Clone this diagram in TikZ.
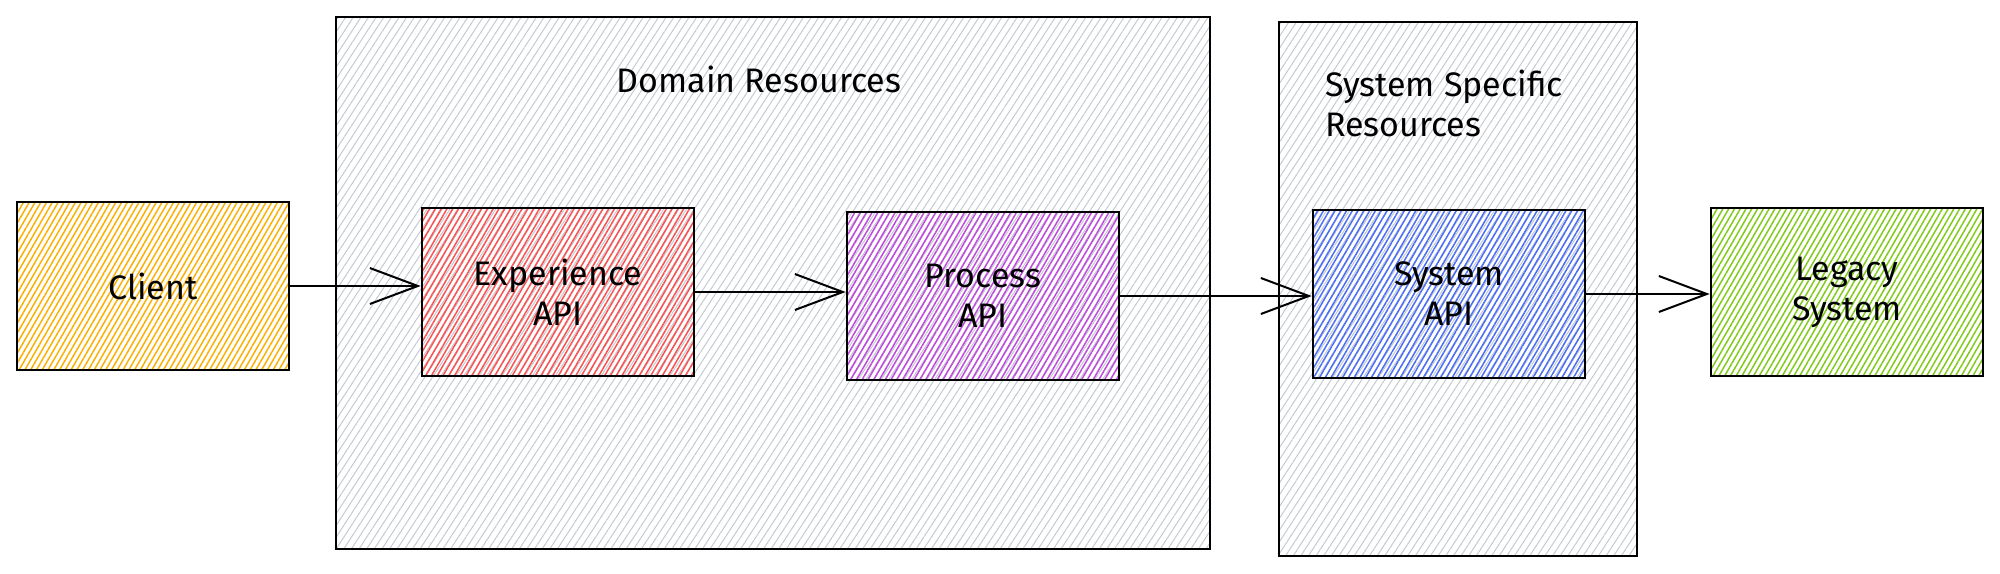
\documentclass[tikz,border=0pt]{standalone}
\usepackage{fontspec}
\setmainfont{Fira Sans}
\usepackage{xcolor}
\usetikzlibrary{arrows.meta, patterns.meta}
\definecolor{hatchgray}{HTML}{C4CAD1}
\definecolor{clientcol}{HTML}{FAB005}
\definecolor{expcol}{HTML}{FA5252}
\definecolor{proccol}{HTML}{BE4BDB}
\definecolor{syscol}{HTML}{4C6EF5}
\definecolor{legacycol}{HTML}{82C91E}
\tikzset{
    zone/.style={draw=black, line width=1.2pt,
        pattern={Lines[angle=57, distance=3.2pt, line width=0.5pt]}, pattern color=hatchgray},
    apibox/.style={draw=black, line width=1.3pt,
        pattern={Lines[angle=60, distance=2.5pt, line width=0.75pt]}, pattern color=#1,
        minimum width=136pt, minimum height=84pt, align=center,
        font=\fontsize{17}{20}\selectfont},
    zonelabel/.style={font=\fontsize{17}{20}\selectfont, align=left},
    flow/.style={line width=1pt, -{Straight Barb[length=24pt, width=18pt, line width=1pt]}}
}

\begin{document}
\begin{tikzpicture}[x=0.5pt, y=-0.5pt]
    \useasboundingbox (0,0) rectangle (2000,573);
    % containers
    \node[zone, minimum width=437pt, minimum height=266pt] (domain) at (773,283) {};
    \node[zone, minimum width=179pt, minimum height=267pt] (sysres) at (1458,289) {};
    \node[zonelabel] (domainlbl) at (759,79) {Domain Resources};
    \node[zonelabel, anchor=west] (syslbl) at (1318,103) {System Specific\\Resources};
    % api layers
    \node[apibox=clientcol] (client) at (153,286) {Client};
    \node[apibox=expcol] (exp) at (558,292) {Experience\\API};
    \node[apibox=proccol] (proc) at (983,296) {Process\\API};
    \node[apibox=syscol] (sysapi) at (1449,294) {System\\API};
    \node[apibox=legacycol] (legacy) at (1847,292) {Legacy\\System};
    % calls
    \draw[flow] (client.east) -- (client.east -| exp.west);
    \draw[flow] (exp.east) -- (exp.east -| proc.west);
    \draw[flow] (proc.east) -- (proc.east -| sysapi.west);
    \draw[flow] (sysapi.east) -- (sysapi.east -| legacy.west);
\end{tikzpicture}
\end{document}
